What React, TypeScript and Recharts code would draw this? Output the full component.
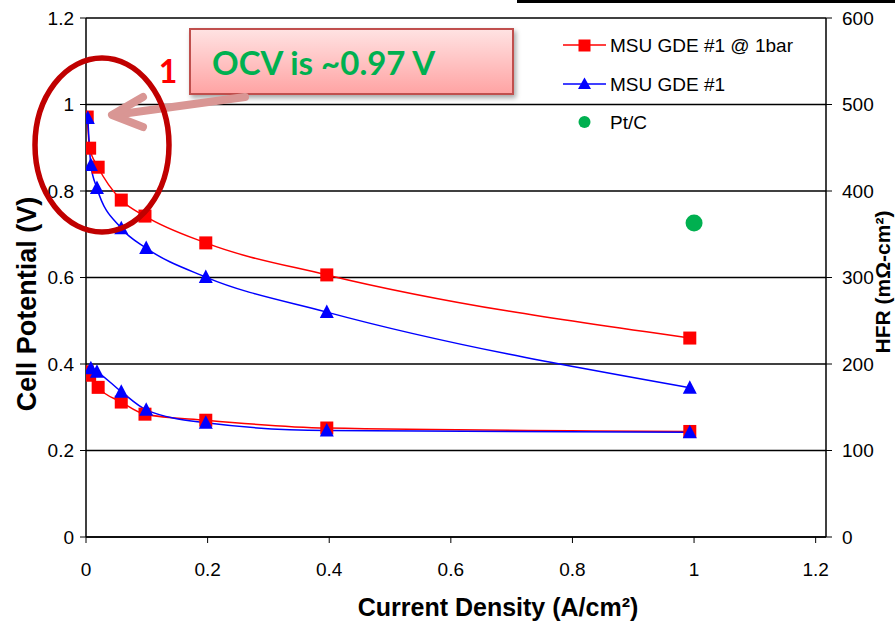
import React from "react";
import {
  ComposedChart,
  Line,
  Scatter,
  XAxis,
  YAxis,
  CartesianGrid,
  Legend,
} from "recharts";

// MSU GDE #1 @ 1bar
const barCurrent = [0.002, 0.006, 0.02, 0.058, 0.097, 0.197, 0.396, 0.993];
const barVoltage = [0.971, 0.899, 0.855, 0.779, 0.742, 0.68, 0.606, 0.46];
const barHfr = [191, 187, 173, 156, 142, 135, 126, 122];

// MSU GDE #1
const gdeCurrent = [0.003, 0.008, 0.018, 0.058, 0.099, 0.197, 0.396, 0.993];
const gdeVoltage = [0.969, 0.86, 0.807, 0.714, 0.668, 0.601, 0.52, 0.345];
const gdeHfrCurrent = [0.008, 0.018, 0.058, 0.099, 0.197, 0.396, 0.993];
const gdeHfr = [195, 191, 168, 147, 132, 123, 121];

// Pt/C
const ptcCurrent = [1.0];
const ptcHfr = [363];

const xTicks = [0, 0.2, 0.4, 0.6, 0.8, 1, 1.2];
const voltTicks = [0, 0.2, 0.4, 0.6, 0.8, 1, 1.2];
const hfrTicks = [0, 100, 200, 300, 400, 500, 600];

const RED = "#FF0000";
const BLUE = "#0000FF";
const GREEN = "#00B050";
const FONT = "'Liberation Sans', Arial, sans-serif";

const pairs = (xs: number[], ys: number[]) =>
  xs.map((x, i) => ({ x, y: ys[i] }));

const renderSquare = (p: any) => {
  if (p.cx == null || p.cy == null) return <g key={`sq-${p.index}`} />;
  return (
    <rect
      key={`sq-${p.index}`}
      x={p.cx - 6.5}
      y={p.cy - 6.5}
      width={13}
      height={13}
      fill={RED}
    />
  );
};

const renderTriangle = (p: any) => {
  if (p.cx == null || p.cy == null) return <g key={`tr-${p.index}`} />;
  const { cx, cy } = p;
  return (
    <polygon
      key={`tr-${p.index}`}
      points={`${cx},${cy - 7.5} ${cx + 7},${cy + 6} ${cx - 7},${cy + 6}`}
      fill={BLUE}
    />
  );
};

function LegendBox() {
  return (
    <svg width={270} height={110} style={{ overflow: "visible" }}>
      <line x1={8} y1={15} x2={51} y2={15} stroke={RED} strokeWidth={1.5} />
      <rect x={23.5} y={9.5} width={12} height={12} fill={RED} />
      <text x={55} y={15} dy="0.35em" fontSize={19} fontFamily={FONT}>
        MSU GDE #1 @ 1bar
      </text>
      <line x1={8} y1={54} x2={51} y2={54} stroke={BLUE} strokeWidth={1.5} />
      <polygon points="29.5,47.5 36,59 23,59" fill={BLUE} />
      <text x={55} y={54} dy="0.35em" fontSize={19} fontFamily={FONT}>
        MSU GDE #1
      </text>
      <circle cx={29.5} cy={92} r={6} fill={GREEN} />
      <text x={55} y={92} dy="0.35em" fontSize={19} fontFamily={FONT}>
        Pt/C
      </text>
    </svg>
  );
}

function Overlay() {
  return (
    <svg
      width={895}
      height={622}
      style={{ position: "absolute", left: 0, top: 0, pointerEvents: "none" }}
    >
      <defs>
        <linearGradient id="callout" x1="0" y1="0" x2="0" y2="1">
          <stop offset="0%" stopColor="#FFE3E3" />
          <stop offset="100%" stopColor="#FFA3A3" />
        </linearGradient>
        <filter id="shadow" x="-10%" y="-20%" width="130%" height="160%">
          <feDropShadow dx="2" dy="3" stdDeviation="2.5" floodColor="#000" floodOpacity="0.35" />
        </filter>
      </defs>

      {/* slide bar at top */}
      <rect x={517} y={0} width={378} height={3} fill="#000" />

      {/* callout */}
      <rect
        x={190}
        y={29}
        width={323}
        height={65}
        fill="url(#callout)"
        stroke="#C0504D"
        strokeWidth={2}
        filter="url(#shadow)"
      />
      <text
        x={212}
        y={75}
        fontSize={33}
        fontWeight="bold"
        fontFamily="Lato, 'Open Sans', sans-serif"
        fill={GREEN}
      >
        OCV is ~0.97 V
      </text>

      {/* arrow */}
      <g stroke="#D99694" strokeWidth={8} fill="none" strokeLinecap="round" strokeLinejoin="round">
        <line x1={245} y1={97} x2={114} y2={115} />
        <polyline points="143,97 112,115 143,127" />
      </g>

      {/* ellipse */}
      <ellipse cx={102} cy={145} rx={67} ry={87} fill="none" stroke="#C00000" strokeWidth={5.5} />

      <text
        x={168}
        y={83}
        textAnchor="middle"
        fontSize={32}
        fontWeight="bold"
        fontFamily="Lato, 'Open Sans', sans-serif"
        fill={RED}
      >
        1
      </text>

      {/* axis titles */}
      <text
        transform="translate(36,304) rotate(-90)"
        textAnchor="middle"
        fontSize={27}
        fontWeight="bold"
        fontFamily={FONT}
      >
        Cell Potential (V)
      </text>
      <text
        transform="translate(890,282) rotate(-90)"
        textAnchor="middle"
        fontSize={21}
        fontWeight="bold"
        fontFamily={FONT}
      >
        HFR (mΩ-cm²)
      </text>
      <text
        x={498}
        y={616}
        textAnchor="middle"
        fontSize={25}
        fontWeight="bold"
        fontFamily={FONT}
      >
        Current Density (A/cm²)
      </text>
    </svg>
  );
}

export default function App() {
  const tickStyle = { fontSize: 19, fill: "#000", fontFamily: FONT };
  return (
    <div style={{ position: "absolute", left: 0, top: 0, width: 895, height: 622, background: "#fff" }}>
      <ComposedChart
        width={895}
        height={622}
        margin={{ top: 18, right: 9, left: 26, bottom: 25 }}
      >
        <CartesianGrid
          yAxisId="left"
          vertical={false}
          stroke="#000"
          strokeWidth={1.6}
        />
        <XAxis
          type="number"
          dataKey="x"
          domain={[0, 1.217]}
          ticks={xTicks}
          allowDataOverflow
          height={60}
          tickSize={6}
          tickMargin={20}
          tick={tickStyle}
          axisLine={{ stroke: "#000", strokeWidth: 1.5 }}
          tickLine={{ stroke: "#000" }}
        />
        <YAxis
          yAxisId="left"
          type="number"
          domain={[0, 1.2]}
          ticks={voltTicks}
          width={60}
          tickSize={6}
          tickMargin={6}
          tick={tickStyle}
          axisLine={{ stroke: "#000", strokeWidth: 1.5 }}
          tickLine={{ stroke: "#000" }}
        />
        <YAxis
          yAxisId="right"
          orientation="right"
          type="number"
          domain={[0, 600]}
          ticks={hfrTicks}
          width={60}
          tickSize={6}
          tickMargin={10}
          tick={{ ...tickStyle, textAnchor: "start" }}
          axisLine={{ stroke: "#000", strokeWidth: 1.5 }}
          tickLine={{ stroke: "#000" }}
        />
        <Legend
          layout="horizontal"
          verticalAlign="middle"
          align="center"
          wrapperStyle={{ left: 555, top: 30, width: 270, height: 110 }}
          content={() => <LegendBox />}
        />
        <Line
          yAxisId="left"
          data={pairs(barCurrent, barVoltage)}
          dataKey="y"
          name="MSU GDE #1 @ 1bar"
          type="monotone"
          stroke={RED}
          strokeWidth={1.5}
          dot={renderSquare}
          activeDot={false}
          isAnimationActive={false}
          legendType="none"
        />
        <Line
          yAxisId="right"
          data={pairs(barCurrent, barHfr)}
          dataKey="y"
          name="MSU GDE #1 @ 1bar HFR"
          type="monotone"
          stroke={RED}
          strokeWidth={1.5}
          dot={renderSquare}
          activeDot={false}
          isAnimationActive={false}
          legendType="none"
        />
        <Line
          yAxisId="left"
          data={pairs(gdeCurrent, gdeVoltage)}
          dataKey="y"
          name="MSU GDE #1"
          type="monotone"
          stroke={BLUE}
          strokeWidth={1.5}
          dot={renderTriangle}
          activeDot={false}
          isAnimationActive={false}
          legendType="none"
        />
        <Line
          yAxisId="right"
          data={pairs(gdeHfrCurrent, gdeHfr)}
          dataKey="y"
          name="MSU GDE #1 HFR"
          type="monotone"
          stroke={BLUE}
          strokeWidth={1.5}
          dot={renderTriangle}
          activeDot={false}
          isAnimationActive={false}
          legendType="none"
        />
        <Scatter
          yAxisId="right"
          data={pairs(ptcCurrent, ptcHfr)}
          dataKey="y"
          name="Pt/C"
          fill={GREEN}
          shape={(p: any) => <circle cx={p.cx} cy={p.cy} r={8.5} fill={GREEN} />}
          isAnimationActive={false}
          legendType="none"
        />
      </ComposedChart>
      <Overlay />
    </div>
  );
}
